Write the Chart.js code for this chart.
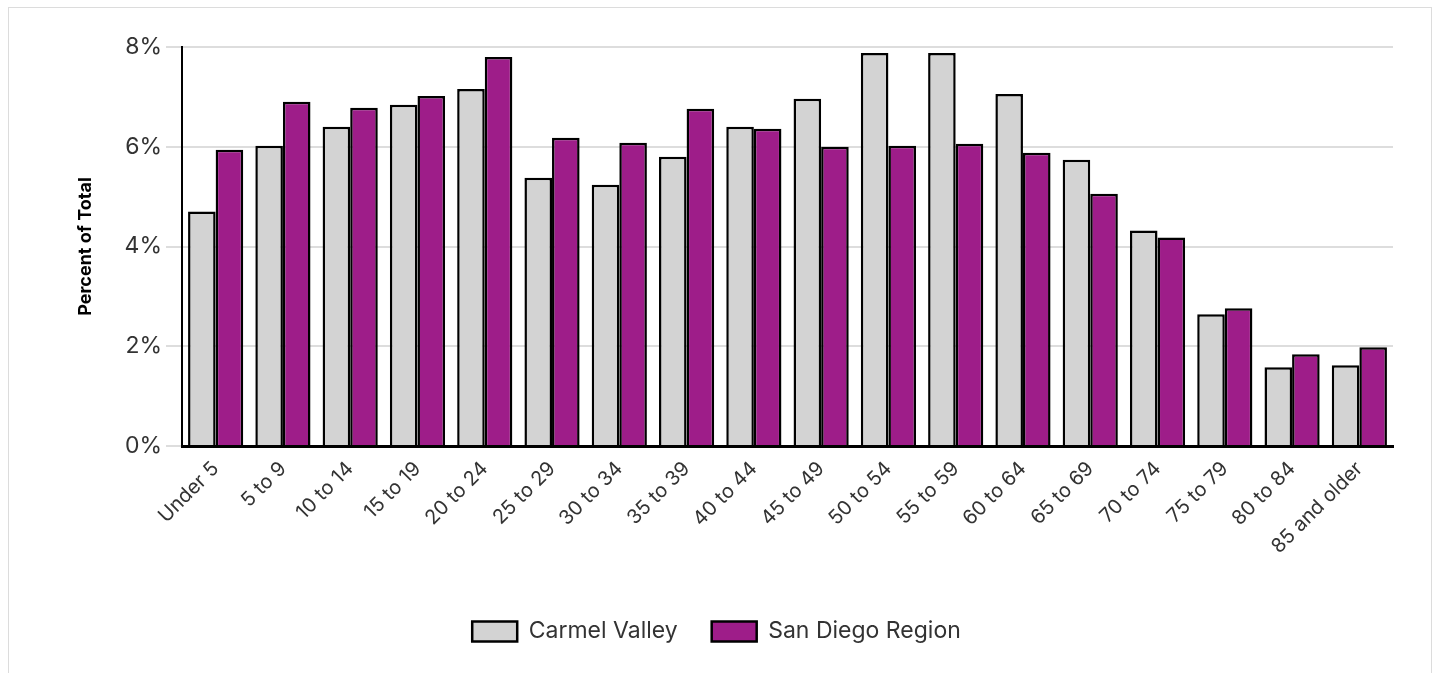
<!DOCTYPE html>
<html>
<head>
<meta charset="utf-8">
<script src="https://cdn.jsdelivr.net/npm/chart.js@4.4.1/dist/chart.umd.min.js"></script>
<style>
  html, body { margin: 0; padding: 0; background: #fff; }
  #wrap { position: relative; width: 1439px; height: 673px; }
  #frame { position: absolute; left: 8px; top: 7px; width: 1424px; height: 670px; border: 1px solid #dcdcdc; box-sizing: border-box; }
  canvas { position: absolute; left: 0; top: 0; }
</style>
</head>
<body>
<div id="wrap">
  <div id="frame"></div>
  <canvas id="c" width="1439" height="673"></canvas>
</div>
<script>
const categories = ["Under 5","5 to 9","10 to 14","15 to 19","20 to 24","25 to 29","30 to 34","35 to 39","40 to 44","45 to 49","50 to 54","55 to 59","60 to 64","65 to 69","70 to 74","75 to 79","80 to 84","85 and older"];
const carmelValley = [4.70, 6.02, 6.40, 6.84, 7.16, 5.38, 5.24, 5.80, 6.40, 6.96, 7.88, 7.88, 7.06, 5.74, 4.32, 2.64, 1.58, 1.62];
const sanDiegoRegion = [5.94, 6.90, 6.78, 7.02, 7.80, 6.18, 6.08, 6.76, 6.36, 6.00, 6.02, 6.06, 5.88, 5.06, 4.18, 2.76, 1.84, 1.98];
const yTicks = [0, 2, 4, 6, 8];

const FONT = "Inter, 'Open Sans', sans-serif";
const TXT = "#333333";

new Chart(document.getElementById('c'), {
  type: 'bar',
  data: {
    labels: categories,
    datasets: [
      { label: 'Carmel Valley', data: carmelValley, backgroundColor: '#d3d3d3', borderColor: '#000', borderWidth: 2.5, categoryPercentage: 0.82, barPercentage: 1.0 },
      { label: 'San Diego Region', data: sanDiegoRegion, backgroundColor: '#9e1d89', borderColor: '#000', borderWidth: 2.5, categoryPercentage: 0.82, barPercentage: 1.0 }
    ]
  },
  options: {
    responsive: false,
    animation: false,
    layout: { padding: { left: 40, right: 46, top: 47, bottom: 20 } },
    plugins: {
      tooltip: { enabled: false },
      legend: {
        position: 'bottom',
        labels: {
          font: { family: FONT, size: 23 },
          color: TXT,
          boxWidth: 45,
          boxHeight: 20,
          padding: 34
        }
      }
    },
    scales: {
      x: {
        grid: { display: false },
        border: { display: true, color: '#000', width: 3 },
        ticks: {
          font: { family: FONT, size: 20 },
          color: TXT,
          maxRotation: 45,
          minRotation: 45,
          autoSkip: false
        },
        afterFit: (s) => { s.height = 140; }
      },
      y: {
        min: 0,
        max: 8,
        afterBuildTicks: (s) => { s.ticks = yTicks.map(v => ({ value: v })); },
        grid: { color: '#dddddd', lineWidth: 2, tickLength: 16, drawTicks: true },
        border: { display: true, color: '#000', width: 2 },
        ticks: {
          font: { family: FONT, size: 23 },
          color: TXT,
          padding: 4,
          callback: (v) => v + '%'
        },
        title: {
          display: true,
          text: 'Percent of Total',
          font: { family: FONT, size: 18, weight: 'bold' },
          color: '#000',
          padding: { top: 35, bottom: 4 }
        },
        afterFit: (s) => { s.width = 142; }
      }
    }
  }
});
</script>
</body>
</html>
